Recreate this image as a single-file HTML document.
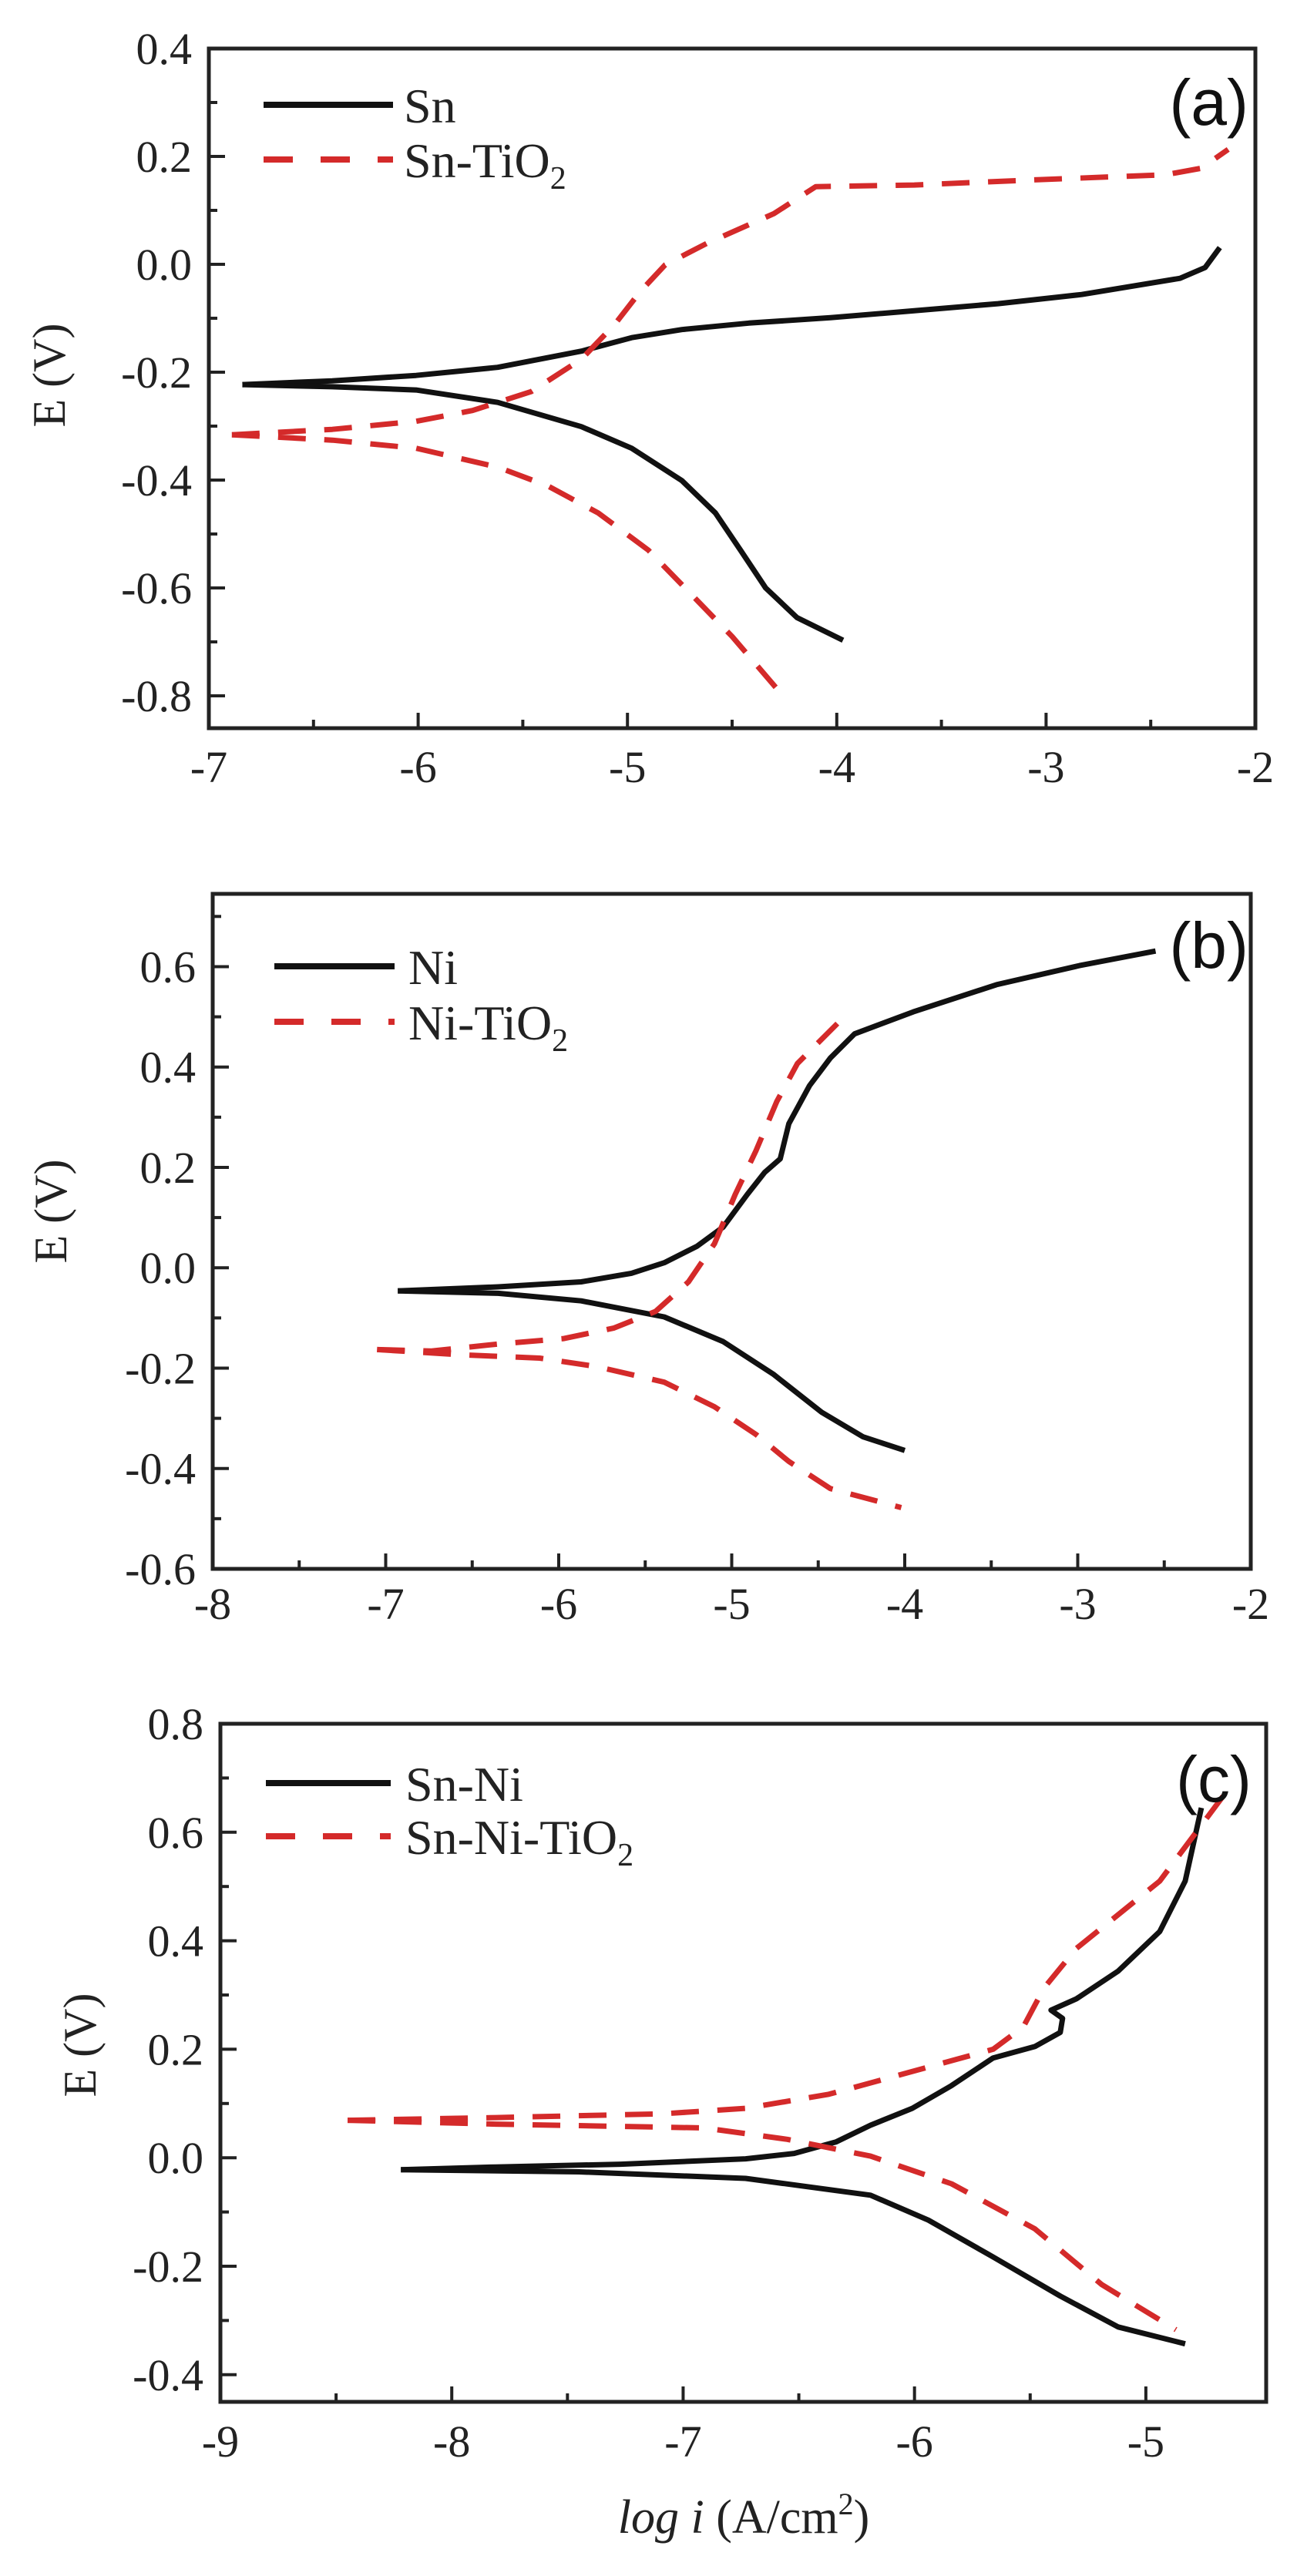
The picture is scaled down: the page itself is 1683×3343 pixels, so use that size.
<!DOCTYPE html>
<html><head><meta charset="utf-8">
<style>
html,body{margin:0;padding:0;background:#fff;}
svg{display:block;}
text{font-family:"Liberation Serif",serif;fill:#222;}
.lab{font-family:"Liberation Sans",sans-serif;fill:#111;}
</style></head>
<body>
<svg id="fig" width="1683" height="3343" viewBox="0 0 1683 3343" xmlns="http://www.w3.org/2000/svg"></svg>
<script>
// Panel (a) data
const aSnAnX=[-6.84,-6.41,-6.01,-5.62,-5.22,-4.98,-4.74,-4.42,-4.03,-3.63,-3.23,-2.83,-2.36,-2.24,-2.17];
const aSnAnY=[-0.223,-0.216,-0.206,-0.191,-0.161,-0.136,-0.121,-0.109,-0.099,-0.086,-0.073,-0.056,-0.026,-0.006,0.031];
const aSnCaX=[-6.84,-6.41,-6.01,-5.62,-5.22,-4.98,-4.74,-4.58,-4.46,-4.34,-4.19,-3.97];
const aSnCaY=[-0.223,-0.227,-0.233,-0.256,-0.301,-0.341,-0.401,-0.461,-0.53,-0.60,-0.655,-0.697];
const aTiAnX=[-6.89,-6.41,-6.01,-5.74,-5.46,-5.22,-5.06,-4.94,-4.82,-4.62,-4.30,-4.10,-3.63,-3.03,-2.43,-2.26,-2.13];
const aTiAnY=[-0.316,-0.306,-0.291,-0.271,-0.236,-0.176,-0.111,-0.051,-0.001,0.039,0.094,0.144,0.147,0.157,0.166,0.178,0.213];
const aTiCaX=[-6.89,-6.41,-6.01,-5.62,-5.38,-5.14,-4.9,-4.70,-4.5,-4.29];
const aTiCaY=[-0.316,-0.326,-0.341,-0.376,-0.411,-0.461,-0.53,-0.61,-0.69,-0.785];
// Panel (b) data
const bNiAnX=[-6.93,-6.35,-5.87,-5.58,-5.39,-5.20,-5.05,-4.91,-4.81,-4.72,-4.67,-4.55,-4.43,-4.29,-3.95,-3.47,-2.99,-2.55];
const bNiAnY=[-0.046,-0.038,-0.028,-0.011,0.010,0.043,0.081,0.146,0.190,0.217,0.287,0.363,0.418,0.466,0.510,0.564,0.602,0.631];
const bNiCaX=[-6.93,-6.35,-5.87,-5.39,-5.05,-4.76,-4.48,-4.24,-4.0];
const bNiCaY=[-0.046,-0.051,-0.066,-0.098,-0.147,-0.212,-0.288,-0.337,-0.364];
const bTiAnX=[-7.05,-6.74,-6.35,-5.97,-5.68,-5.44,-5.25,-5.10,-4.98,-4.86,-4.74,-4.62,-4.33];
const bTiAnY=[-0.163,-0.166,-0.152,-0.141,-0.120,-0.087,-0.028,0.048,0.146,0.233,0.331,0.407,0.507];
const bTiCaX=[-7.05,-6.59,-6.11,-5.78,-5.39,-5.10,-4.86,-4.67,-4.43,-4.02];
const bTiCaY=[-0.163,-0.173,-0.18,-0.197,-0.228,-0.277,-0.332,-0.386,-0.44,-0.478];
// Panel (c) data
const cSnNiAnX=[-8.22,-7.81,-7.27,-6.73,-6.52,-6.34,-6.19,-6.01,-5.84,-5.66,-5.48,-5.37,-5.36,-5.41,-5.30,-5.12,-4.94,-4.83,-4.76];
const cSnNiAnY=[-0.022,-0.017,-0.012,-0.002,0.008,0.029,0.060,0.091,0.133,0.184,0.205,0.231,0.257,0.272,0.293,0.344,0.417,0.510,0.645];
const cSnNiCaX=[-8.22,-7.45,-6.73,-6.19,-5.94,-5.66,-5.37,-5.12,-4.83];
const cSnNiCaY=[-0.022,-0.026,-0.038,-0.069,-0.115,-0.183,-0.255,-0.312,-0.343];
const cTiAnX=[-8.45,-7.81,-7.09,-6.73,-6.37,-6.01,-5.66,-5.53,-5.44,-5.30,-4.94,-4.65];
const cTiAnY=[0.069,0.074,0.081,0.091,0.117,0.159,0.200,0.241,0.313,0.386,0.510,0.676];
const cTiCaX=[-8.45,-7.81,-6.91,-6.55,-6.19,-5.84,-5.48,-5.19,-4.87];
const cTiCaY=[0.069,0.062,0.055,0.034,0.003,-0.048,-0.131,-0.234,-0.317];
// tick labels
const aXTicks=[-7,-6,-5,-4,-3,-2];
const aYTicks=[-0.8,-0.6,-0.4,-0.2,0.0,0.2,0.4];
const bXTicks=[-8,-7,-6,-5,-4,-3,-2];
const bYTicks=[-0.6,-0.4,-0.2,0.0,0.2,0.4,0.6];
const cXTicks=[-9,-8,-7,-6,-5];
const cYTicks=[-0.4,-0.2,0.0,0.2,0.4,0.6,0.8];

const NS="http://www.w3.org/2000/svg";
const svg=document.getElementById('fig');
function mk(tag,attrs,parent){const e=document.createElementNS(NS,tag);for(const k in attrs)e.setAttribute(k,attrs[k]);(parent||svg).appendChild(e);return e;}

function panel(p){
  const g=mk('g',{});
  
  
  const sx=v=>p.L+(v-p.x0)/(p.x1-p.x0)*(p.R-p.L);
  const sy=v=>p.T+(p.y1-v)/(p.y1-p.y0)*(p.B-p.T);
  const fr=mk('rect',{x:p.L,y:p.T,width:p.R-p.L,height:p.B-p.T,fill:'none',stroke:'#222','stroke-width':5},g);
  
  
  for(let i=0;i<p.xt.length;i++){
    const v=p.xt[i];const x=sx(v);
    mk('line',{x1:x,y1:p.B,x2:x,y2:p.B-20,stroke:'#222','stroke-width':4},g);
    const t=mk('text',{x:x,y:p.xl,'text-anchor':'middle','font-size':58},g);
    t.textContent=String(v);
    
    
    if(i<p.xt.length-1){const m=sx(v+(p.xt[1]-p.xt[0])/2);if(m<p.R-2)mk('line',{x1:m,y1:p.B,x2:m,y2:p.B-11,stroke:'#222','stroke-width':4},g);}
  }
  for(let i=0;i<p.yt.length;i++){
    const v=p.yt[i];const y=sy(v);
    mk('line',{x1:p.L,y1:y,x2:p.L+21,y2:y,stroke:'#222','stroke-width':4},g);
    const t=mk('text',{x:p.L-22,y:y+20,'text-anchor':'end','font-size':58},g);
    t.textContent=v.toFixed(1);
    
    
    const m1=v+0.1, m2=v-0.1;
    if(sy(m1)>p.T+3 && (i==p.yt.length-1))mk('line',{x1:p.L,y1:sy(m1),x2:p.L+11,y2:sy(m1),stroke:'#222','stroke-width':4},g);
    if(i>0 || sy(m2)<p.B-3)mk('line',{x1:p.L,y1:sy(m2),x2:p.L+11,y2:sy(m2),stroke:'#222','stroke-width':4},g);
  }
  const yt=mk('text',{x:0,y:0,'font-size':60,'text-anchor':'middle',transform:`translate(${p.ytx},${p.yty}) rotate(-90)`},g);
  yt.textContent='E (V)';
  
  
  function curve(xs,ys,dash,name){
    let d='';for(let i=0;i<xs.length;i++){d+=(i?'L':'M')+sx(xs[i]).toFixed(1)+','+sy(ys[i]).toFixed(1);}
    const a={d:d,fill:'none',stroke:dash?'#d42a2a':'#111','stroke-width':7,'stroke-linejoin':'round'};
    if(dash)a['stroke-dasharray']='36 24';
    const e=mk('path',a,g);
    
    
  }
  curve(p.s[0],p.s[1],false,p.id+'-'+p.n1+'-anodic-curve');
  curve(p.s[2],p.s[3],false,p.id+'-'+p.n1+'-cathodic-curve');
  curve(p.s[4],p.s[5],true,p.id+'-'+p.n2+'-anodic-curve');
  curve(p.s[6],p.s[7],true,p.id+'-'+p.n2+'-cathodic-curve');
  const l1=mk('line',{x1:p.lx1,y1:p.ly1,x2:p.lx2,y2:p.ly1,stroke:'#111','stroke-width':8},g);
  
  
  const l2=mk('line',{x1:p.lx1,y1:p.ly2,x2:p.lx2,y2:p.ly2,stroke:'#d42a2a','stroke-width':8,'stroke-dasharray':'38 36'},g);
  
  
  const t1=mk('text',{x:p.tx,y:p.ly1+23,'font-size':64},g);
  t1.textContent=p.lab1;
  
  
  const t2=mk('text',{x:p.tx,y:p.ly2+23,'font-size':64},g);
  t2.innerHTML=p.lab2+'O<tspan font-size="42" dy="15">2</tspan>';
  
  
  const pl=mk('text',{x:p.plx,y:p.ply,'font-size':84,'text-anchor':'end','class':'lab'},g);
  pl.textContent=p.plab;
  
  
}

panel({id:'a',L:271,R:1629,T:63,B:945,x0:-7,x1:-2,y0:-0.86,y1:0.4,xt:aXTicks,yt:aYTicks,xl:1015,ytx:84,yty:487,
  s:[aSnAnX,aSnAnY,aSnCaX,aSnCaY,aTiAnX,aTiAnY,aTiCaX,aTiCaY],n1:'sn',n2:'sn-tio2',
  lx1:342,lx2:510,ly1:136,ly2:207,tx:524,lab1:'Sn',lab2:'Sn-Ti',plab:'(a)',plx:1620,ply:162});
panel({id:'b',L:276,R:1623,T:1160,B:2036,x0:-8,x1:-2,y0:-0.6,y1:0.745,xt:bXTicks,yt:bYTicks,xl:2101,ytx:86,yty:1572,
  s:[bNiAnX,bNiAnY,bNiCaX,bNiCaY,bTiAnX,bTiAnY,bTiCaX,bTiCaY],n1:'ni',n2:'ni-tio2',
  lx1:356,lx2:512,ly1:1254,ly2:1326,tx:530,lab1:'Ni',lab2:'Ni-Ti',plab:'(b)',plx:1620,ply:1256});
panel({id:'c',L:286,R:1643,T:2237,B:3117,x0:-9,x1:-4.48,y0:-0.45,y1:0.8,xt:cXTicks,yt:cYTicks,xl:3188,ytx:124,yty:2654,
  s:[cSnNiAnX,cSnNiAnY,cSnNiCaX,cSnNiCaY,cTiAnX,cTiAnY,cTiCaX,cTiCaY],n1:'sn-ni',n2:'sn-ni-tio2',
  lx1:345,lx2:507,ly1:2314,ly2:2383,tx:526,lab1:'Sn-Ni',lab2:'Sn-Ni-Ti',plab:'(c)',plx:1624,ply:2338});
const xt=mk('text',{x:965,y:3287,'font-size':62,'text-anchor':'middle'});
xt.innerHTML='<tspan font-style="italic">log i</tspan> (A/cm<tspan font-size="40" dy="-24">2</tspan><tspan dy="24">)</tspan>';


</script>
</body></html>
